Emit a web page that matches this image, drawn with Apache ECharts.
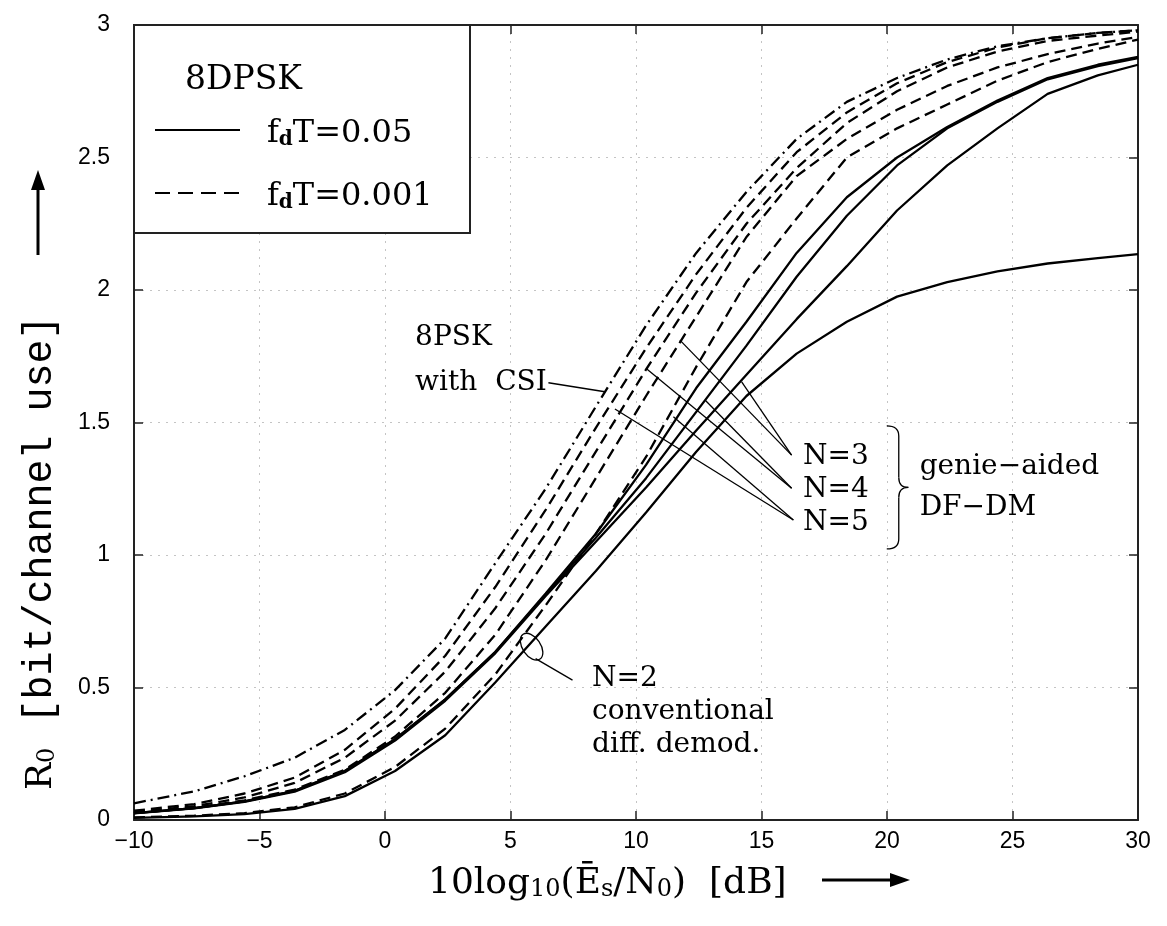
<!DOCTYPE html>
<html>
<head>
<meta charset="utf-8">
<script src="https://cdn.jsdelivr.net/npm/echarts@6/dist/echarts.min.js"></script>
<style>
html, body { margin: 0; padding: 0; background: #fff; }
#main { width: 1167px; height: 926px; }
</style>
</head>
<body>
<div id="main"></div>
<script>
// SNR grid [dB]
var snr = [-10, -7.6, -5.6, -3.6, -1.6, 0.4, 2.4, 4.4, 6.4, 8.4, 10.4, 12.4, 14.4, 16.4, 18.4, 20.4, 22.4, 24.4, 26.4, 28.4, 30];

// 8PSK with CSI (dash-dot)
var csi = [0.063, 0.108, 0.165, 0.235, 0.34, 0.49, 0.685, 0.97, 1.25, 1.56, 1.866, 2.14, 2.37, 2.57, 2.71, 2.80, 2.87, 2.92, 2.95, 2.97, 2.98];

// fdT = 0.001 (dashed), N = 2..5
var slowN2 = [0.01, 0.016, 0.026, 0.048, 0.10, 0.20, 0.345, 0.55, 0.81, 1.08, 1.37, 1.71, 2.03, 2.27, 2.50, 2.61, 2.70, 2.79, 2.86, 2.91, 2.945];
var slowN3 = [0.026, 0.046, 0.074, 0.115, 0.19, 0.315, 0.48, 0.70, 0.98, 1.29, 1.60, 1.90, 2.20, 2.43, 2.57, 2.68, 2.77, 2.84, 2.89, 2.93, 2.955];
var slowN4 = [0.03, 0.052, 0.085, 0.14, 0.235, 0.375, 0.56, 0.80, 1.08, 1.39, 1.70, 1.99, 2.25, 2.46, 2.63, 2.75, 2.84, 2.90, 2.94, 2.96, 2.975];
var slowN5 = [0.035, 0.06, 0.10, 0.16, 0.265, 0.42, 0.62, 0.88, 1.17, 1.48, 1.78, 2.06, 2.31, 2.52, 2.67, 2.78, 2.86, 2.915, 2.95, 2.97, 2.98];

// fdT = 0.05 (solid), N = 2..5
var fastN2 = [0.008, 0.014, 0.022, 0.042, 0.09, 0.185, 0.32, 0.52, 0.73, 0.94, 1.16, 1.39, 1.60, 1.76, 1.88, 1.975, 2.03, 2.07, 2.10, 2.12, 2.135];
var fastN3 = [0.025, 0.044, 0.068, 0.107, 0.18, 0.30, 0.45, 0.63, 0.845, 1.05, 1.255, 1.47, 1.68, 1.89, 2.09, 2.30, 2.47, 2.61, 2.74, 2.81, 2.85];
var fastN4 = [0.026, 0.045, 0.07, 0.11, 0.185, 0.305, 0.455, 0.635, 0.85, 1.065, 1.29, 1.54, 1.79, 2.05, 2.28, 2.47, 2.61, 2.71, 2.795, 2.845, 2.875];
var fastN5 = [0.026, 0.045, 0.07, 0.11, 0.185, 0.305, 0.455, 0.635, 0.855, 1.08, 1.34, 1.63, 1.88, 2.14, 2.35, 2.50, 2.615, 2.715, 2.80, 2.85, 2.88];

// annotations (data coordinates)
var notes = [
	{ t: '8PSK', x: 1.2, y: 1.82 },
	{ t: 'with  CSI', x: 1.2, y: 1.65 },
	{ t: 'N=3', x: 16.65, y: 1.37 },
	{ t: 'N=4', x: 16.65, y: 1.245 },
	{ t: 'N=5', x: 16.65, y: 1.12 },
	{ t: 'genie\u2212aided', x: 21.3, y: 1.333 },
	{ t: 'DF\u2212DM', x: 21.3, y: 1.18 },
	{ t: 'N=2', x: 8.25, y: 0.535 },
	{ t: 'conventional', x: 8.25, y: 0.41 },
	{ t: 'diff. demod.', x: 8.25, y: 0.285 }
];
var leaders = [
	[[6.51, 1.65], [8.76, 1.616]],
	[[16.2, 1.377], [11.75, 1.811]],
	[[16.2, 1.377], [14.21, 1.653]],
	[[16.2, 1.252], [10.43, 1.702]],
	[[16.2, 1.252], [12.75, 1.585]],
	[[16.27, 1.132], [9.16, 1.551]],
	[[16.27, 1.132], [11.49, 1.522]],
	[[6.0, 0.609], [7.47, 0.528]]
];

var chart = echarts.init(document.getElementById('main'));

function pairs(arr) {
	return snr.map(function (x, i) { return [x, arr[i]]; });
}
function curve(name, arr, type) {
	return {
		name: name,
		type: 'line',
		data: pairs(arr),
		symbol: 'none',
		smooth: false,
		silent: true,
		lineStyle: { color: '#000', width: 2.3, type: type }
	};
}

var DASH = [11, 6];
var DASHDOT = [12, 5, 2, 5];
var tickFont = "'Liberation Sans Narrow', 'Liberation Sans', sans-serif";
var serif = "'DejaVu Serif', serif";
var mono = "'Liberation Mono', monospace";

var option = {
	animation: false,
	backgroundColor: '#fff',
	grid: { left: 134, top: 25, width: 1004, height: 795 },
	xAxis: [{
		type: 'value', min: -10, max: 30, interval: 5,
		axisLine: { onZero: false, lineStyle: { color: '#222', width: 2 } },
		axisTick: { inside: true, length: 9, lineStyle: { color: '#222', width: 1.5 } },
		axisLabel: {
			margin: 10, fontSize: 23, fontFamily: tickFont, color: '#000',
			formatter: function (v) { return String(v).replace('-', '\u2212'); }
		},
		splitLine: { show: true, lineStyle: { color: '#c4c4c4', width: 1, type: [2, 6] } }
	}, {
		type: 'value', min: -10, max: 30, interval: 5, position: 'top',
		axisLine: { onZero: false, lineStyle: { color: '#222', width: 2 } },
		axisTick: { inside: true, length: 9, lineStyle: { color: '#222', width: 1.5 } },
		axisLabel: { show: false },
		splitLine: { show: false }
	}],
	yAxis: [{
		type: 'value', min: 0, max: 3, interval: 0.5,
		axisLine: { show: true, onZero: false, lineStyle: { color: '#222', width: 2 } },
		axisTick: { show: true, inside: true, length: 9, lineStyle: { color: '#222', width: 1.5 } },
		axisLabel: { margin: 24, fontSize: 23, fontFamily: tickFont, color: '#000' },
		splitLine: { show: true, lineStyle: { color: '#c4c4c4', width: 1, type: [2, 6] } }
	}, {
		type: 'value', min: 0, max: 3, interval: 0.5, position: 'right',
		axisLine: { show: true, onZero: false, lineStyle: { color: '#222', width: 2 } },
		axisTick: { show: true, inside: true, length: 9, lineStyle: { color: '#222', width: 1.5 } },
		axisLabel: { show: false },
		splitLine: { show: false }
	}],
	series: [
		curve('8PSK CSI', csi, DASHDOT),
		curve('N=5 slow', slowN5, DASH),
		curve('N=4 slow', slowN4, DASH),
		curve('N=3 slow', slowN3, DASH),
		curve('N=2 slow', slowN2, DASH),
		curve('N=5 fast', fastN5, 'solid'),
		curve('N=4 fast', fastN4, 'solid'),
		curve('N=3 fast', fastN3, 'solid'),
		curve('N=2 fast', fastN2, 'solid')
	]
};
chart.setOption(option);

// annotations, legend box, axis titles
function px(p) { return chart.convertToPixel({ gridIndex: 0 }, p); }
var g = [];
var thin = { stroke: '#000', lineWidth: 1.3, fill: null };

notes.forEach(function (n) {
	var p = px([n.x, n.y]);
	g.push({
		type: 'text', x: p[0], y: p[1], z: 50,
		style: { text: n.t, fontSize: 28, fontFamily: serif, fill: '#000', align: 'left', verticalAlign: 'middle' }
	});
});
leaders.forEach(function (l) {
	var a = px(l[0]), b = px(l[1]);
	g.push({
		type: 'line', z: 50,
		shape: { x1: a[0], y1: a[1], x2: b[0], y2: b[1] },
		style: thin
	});
});
// ellipse around N=2 curves
var ec = px([5.84, 0.654]);
g.push({
	type: 'ellipse', z: 50, x: ec[0], y: ec[1], rotation: 0.6,
	shape: { cx: 0, cy: 0, rx: 9, ry: 15 },
	style: thin
});
// brace for genie-aided
var bt = px([20.15, 1.487]), bb = px([20.15, 1.023]), bm = px([20.85, 1.255]);
var bx = bt[0] - 4, bxr = bt[0] + 8, mid = bm[1], r = 10;
g.push({ type: 'bezierCurve', z: 50, shape: { x1: bx, y1: bt[1], cpx1: bxr, cpy1: bt[1], x2: bxr, y2: bt[1] + r }, style: thin });
g.push({ type: 'line', z: 50, shape: { x1: bxr, y1: bt[1] + r, x2: bxr, y2: mid - r }, style: thin });
g.push({ type: 'bezierCurve', z: 50, shape: { x1: bxr, y1: mid - r, cpx1: bxr, cpy1: mid, x2: bm[0], y2: mid }, style: thin });
g.push({ type: 'bezierCurve', z: 50, shape: { x1: bm[0], y1: mid, cpx1: bxr, cpy1: mid, x2: bxr, y2: mid + r }, style: thin });
g.push({ type: 'line', z: 50, shape: { x1: bxr, y1: mid + r, x2: bxr, y2: bb[1] - r }, style: thin });
g.push({ type: 'bezierCurve', z: 50, shape: { x1: bxr, y1: bb[1] - r, cpx1: bxr, cpy1: bb[1], x2: bx, y2: bb[1] }, style: thin });

// legend box
var sub = {
	a: { fontSize: 32, fontFamily: serif, lineHeight: 40, verticalAlign: 'bottom', fill: '#000' },
	s: { fontSize: 20, fontFamily: serif, lineHeight: 20, verticalAlign: 'bottom', fill: '#000', fontWeight: 'bold' }
};
g.push({
	type: 'rect', z: 60,
	shape: { x: 134, y: 25, width: 336, height: 208 },
	style: { fill: '#fff', stroke: '#222', lineWidth: 2 }
});
g.push({
	type: 'text', z: 61, x: 185, y: 80,
	style: { text: '8DPSK', fontSize: 33, fontFamily: serif, fill: '#000', align: 'left', verticalAlign: 'middle' }
});
g.push({
	type: 'line', z: 61, shape: { x1: 155, y1: 130, x2: 240, y2: 130 },
	style: { stroke: '#000', lineWidth: 2 }
});
g.push({
	type: 'line', z: 61, shape: { x1: 155, y1: 193, x2: 240, y2: 193 },
	style: { stroke: '#000', lineWidth: 2, lineDash: [15, 8] }
});
g.push({
	type: 'text', z: 61, x: 267, y: 130,
	style: { text: '{a|f}{s|d}{a|T=0.05}', rich: sub, align: 'left', verticalAlign: 'middle' }
});
g.push({
	type: 'text', z: 61, x: 267, y: 193,
	style: { text: '{a|f}{s|d}{a|T=0.001}', rich: sub, align: 'left', verticalAlign: 'middle' }
});

// axis titles
var titleRich = {
	a: { fontSize: 36, fontFamily: serif, lineHeight: 44, verticalAlign: 'bottom', fill: '#000' },
	m: { fontSize: 40, fontFamily: mono, lineHeight: 44, verticalAlign: 'bottom', fill: '#000' },
	s: { fontSize: 24, fontFamily: serif, lineHeight: 24, verticalAlign: 'bottom', fill: '#000' }
};
g.push({
	type: 'text', x: 428, y: 880,
	style: {
		text: '{a|10log}{s|10}{a|(\u0112}{s|s}{a|/N}{s|0}{a|)  [dB]}',
		rich: titleRich, align: 'left', verticalAlign: 'middle'
	}
});
g.push({
	type: 'line', shape: { x1: 822, y1: 880, x2: 895, y2: 880 },
	style: { stroke: '#000', lineWidth: 3 }
});
g.push({
	type: 'polygon', shape: { points: [[890, 873], [910, 880], [890, 887]] },
	style: { fill: '#000' }
});
g.push({
	type: 'text', x: 38, y: 790, rotation: Math.PI / 2,
	style: {
		text: '{a|R}{s|0}{m| [bit/channel use]}',
		rich: titleRich, align: 'left', verticalAlign: 'middle'
	}
});
g.push({
	type: 'line', shape: { x1: 38, y1: 255, x2: 38, y2: 185 },
	style: { stroke: '#000', lineWidth: 3 }
});
g.push({
	type: 'polygon', shape: { points: [[31, 190], [38, 170], [45, 190]] },
	style: { fill: '#000' }
});

chart.setOption({ graphic: g });
</script>
</body>
</html>
